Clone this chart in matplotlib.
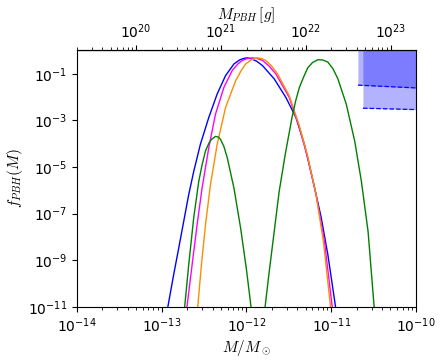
import matplotlib

matplotlib.use("Agg")
import matplotlib.pyplot as plt
import numpy as np

plt.rcParams["mathtext.fontset"] = "cm"

MSUN_G = 1.989e33

# curves: log10(M/Msun), log10(f_PBH)
blue_logm = [-12.925, -12.858, -12.798, -12.739, -12.68, -12.62, -12.542, -12.443, -12.344, -12.245,
             -12.146, -12.08, -12.028, -11.99, -11.949, -11.88, -11.81, -11.672, -11.534, -11.415,
             -11.316, -11.217, -11.119, -11.04, -10.949]
blue_logf = [-11.0, -9.65, -8.50, -7.35, -6.20, -5.19, -4.03, -2.88, -1.87, -1.08,
             -0.58, -0.41, -0.34, -0.32, -0.35, -0.46, -0.65, -1.22, -2.02, -2.88,
             -4.03, -5.55, -7.15, -8.75, -11.0]

magenta_logm = [-12.70, -12.64, -12.581, -12.522, -12.443, -12.364, -12.265, -12.166, -12.1, -12.047,
                -11.99, -11.929, -11.87, -11.81, -11.73, -11.652, -11.494, -11.375, -11.277, -11.178,
                -11.079, -10.988]
magenta_logf = [-11.0, -9.22, -7.49, -5.91, -4.18, -2.74, -1.59, -0.86, -0.58, -0.43,
                -0.35, -0.32, -0.35, -0.43, -0.68, -1.01, -2.02, -3.31, -4.61, -6.20,
                -8.21, -11.0]

orange_logm = [-12.573, -12.53, -12.482, -12.423, -12.344, -12.245, -12.126, -12.06, -12.008, -11.94,
               -11.87, -11.82, -11.771, -11.70, -11.632, -11.494, -11.375, -11.277, -11.178, -11.091,
               -11.008]
orange_logf = [-11.0, -9.22, -7.49, -5.76, -4.03, -2.45, -1.30, -0.86, -0.58, -0.40,
               -0.32, -0.35, -0.43, -0.68, -1.01, -1.95, -3.24, -4.54, -6.20, -8.21,
               -11.0]

green1_logm = [-12.727, -12.68, -12.621, -12.561, -12.52, -12.482, -12.44, -12.411, -12.364, -12.33,
               -12.304, -12.265, -12.225, -12.146, -12.067, -12.0, -11.945]
green1_logf = [-11.0, -9.22, -7.20, -5.62, -4.88, -4.32, -3.97, -3.82, -3.69, -3.72,
               -3.82, -4.12, -4.61, -5.91, -7.64, -9.37, -11.0]

green2_logm = [-11.779, -11.731, -11.672, -11.613, -11.542, -11.462, -11.42, -11.375, -11.32, -11.277,
               -11.22, -11.158, -11.10, -11.04, -10.98, -10.921, -10.822, -10.723, -10.644, -10.565,
               -10.494]
green2_logf = [-11.0, -9.51, -7.78, -6.05, -4.47, -2.88, -2.18, -1.59, -1.10, -0.75,
               -0.52, -0.40, -0.41, -0.50, -0.78, -1.22, -2.31, -3.89, -5.62, -7.78,
               -11.0]

# shaded constraints: x range (log M) and lower boundary (log f) at both ends
lim1_logm = [-10.685, -10.0]
lim1_logf = [-1.49, -1.61]
lim2_logm = [-10.626, -10.0]
lim2_logf = [-2.48, -2.54]


def main():
    fig = plt.figure(figsize=(4.44, 3.64), dpi=100)
    ax = fig.add_axes([0.1727, 0.1574, 0.7643, 0.7041])

    curves = [
        (blue_logm, blue_logf, "blue"),
        (magenta_logm, magenta_logf, "magenta"),
        (orange_logm, orange_logf, "darkorange"),
        (green1_logm, green1_logf, "green"),
        (green2_logm, green2_logf, "green"),
    ]
    for lm, lf, col in curves:
        ax.plot(10 ** np.array(lm), 10 ** np.array(lf), color=col, lw=1)

    for lm, lf in [(lim1_logm, lim1_logf), (lim2_logm, lim2_logf)]:
        m = 10 ** np.array(lm)
        low = 10 ** np.array(lf)
        ax.fill_between(m, low, 1.0, color="blue", alpha=0.3, lw=0)
        ax.plot(m, low, color="blue", ls="--", lw=0.9)

    ax.axhline(1.0, color="#1d4656", lw=1.6)

    ax.set_xscale("log")
    ax.set_yscale("log")
    ax.set_xlim(1e-14, 1e-10)
    ax.set_ylim(1e-11, 1.0)
    ax.set_yticks([1e-1, 1e-3, 1e-5, 1e-7, 1e-9, 1e-11])
    ax.yaxis.set_minor_locator(matplotlib.ticker.NullLocator())
    ax.set_xlabel(r"$M/M_\odot$", fontsize=11, labelpad=2)
    ax.set_ylabel(r"$f_{PBH}(M)$", fontsize=11, labelpad=2)

    sec = ax.secondary_xaxis("top", functions=(lambda m: m * MSUN_G, lambda g: g / MSUN_G))
    sec.set_xlabel(r"$M_{PBH}\,[g]$", fontsize=11, labelpad=2)

    fig.savefig("out.png", dpi=100)
    plt.close(fig)


if __name__ == "__main__":
    main()
